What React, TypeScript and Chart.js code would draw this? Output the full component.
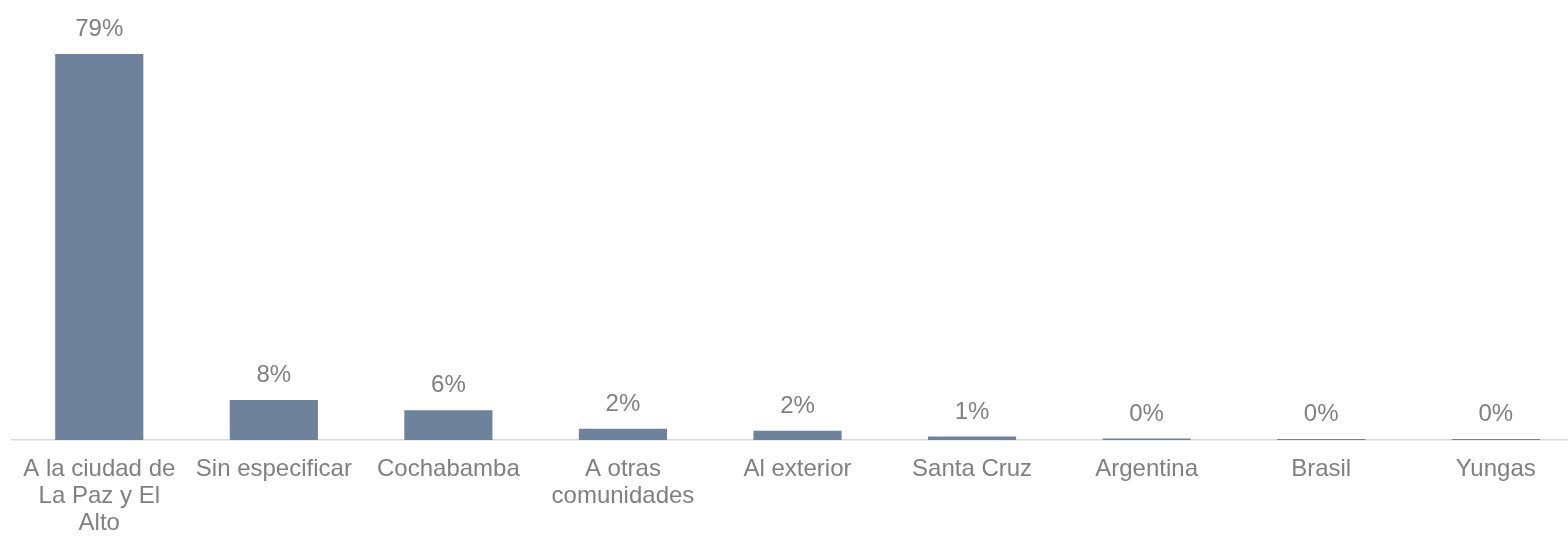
import React, { useEffect, useRef } from "react";
import { Chart, registerables } from "chart.js";

Chart.register(...registerables);

const categories: (string | string[])[] = [
  ["A la ciudad de", "La Paz y El", "Alto"],
  "Sin especificar",
  "Cochabamba",
  ["A otras", "comunidades"],
  "Al exterior",
  "Santa Cruz",
  "Argentina",
  "Brasil",
  "Yungas",
];
const values: number[] = [79.2, 8.2, 6.1, 2.3, 1.9, 0.7, 0.3, 0.2, 0.2];
const valueLabels: string[] = ["79%", "8%", "6%", "2%", "2%", "1%", "0%", "0%", "0%"];

const BAR_COLOR = "#6F829B";
const TEXT_COLOR = "#808080";
const FONT = "'Liberation Sans', Arial, sans-serif";

const labelPlugin = {
  id: "barValueLabels",
  afterDatasetsDraw(chart: any) {
    const ctx = chart.ctx;
    const meta = chart.getDatasetMeta(0);
    ctx.save();
    ctx.fillStyle = TEXT_COLOR;
    ctx.font = `24px ${FONT}`;
    ctx.textAlign = "center";
    ctx.textBaseline = "alphabetic";
    meta.data.forEach((bar: any, i: number) => {
      ctx.fillText(valueLabels[i], bar.x, bar.y - 18);
    });
    ctx.restore();
  },
};

export default function App() {
  const ref = useRef<HTMLCanvasElement | null>(null);
  useEffect(() => {
    document.body.style.overflow = "hidden";
    const chart = new Chart(ref.current!, {
      type: "bar",
      data: {
        labels: categories,
        datasets: [
          {
            data: values,
            backgroundColor: BAR_COLOR,
            barPercentage: 0.505,
            categoryPercentage: 1,
          },
        ],
      },
      options: {
        animation: false,
        responsive: false,
        layout: { padding: { top: 50, left: 12, right: 17, bottom: 0 } },
        plugins: { legend: { display: false }, tooltip: { enabled: false } },
        scales: {
          x: {
            grid: { display: false, drawTicks: false },
            border: { display: true, color: "#d9d9d9", width: 1.5 },
            ticks: {
              color: TEXT_COLOR,
              font: { family: FONT, size: 24, lineHeight: 1.125 },
              padding: 16,
              maxRotation: 0,
              autoSkip: false,
            },
            afterFit: (scale: any) => {
              scale.height = 97;
            },
          },
          y: {
            display: false,
            min: 0,
            max: 80,
          },
        },
      },
      plugins: [labelPlugin],
    });
    return () => chart.destroy();
  }, []);
  return (
    <div style={{ position: "absolute", left: 0, top: 0, width: 1600, height: 537 }}>
      <canvas ref={ref} width={1600} height={537} style={{ width: 1600, height: 537 }} />
    </div>
  );
}
